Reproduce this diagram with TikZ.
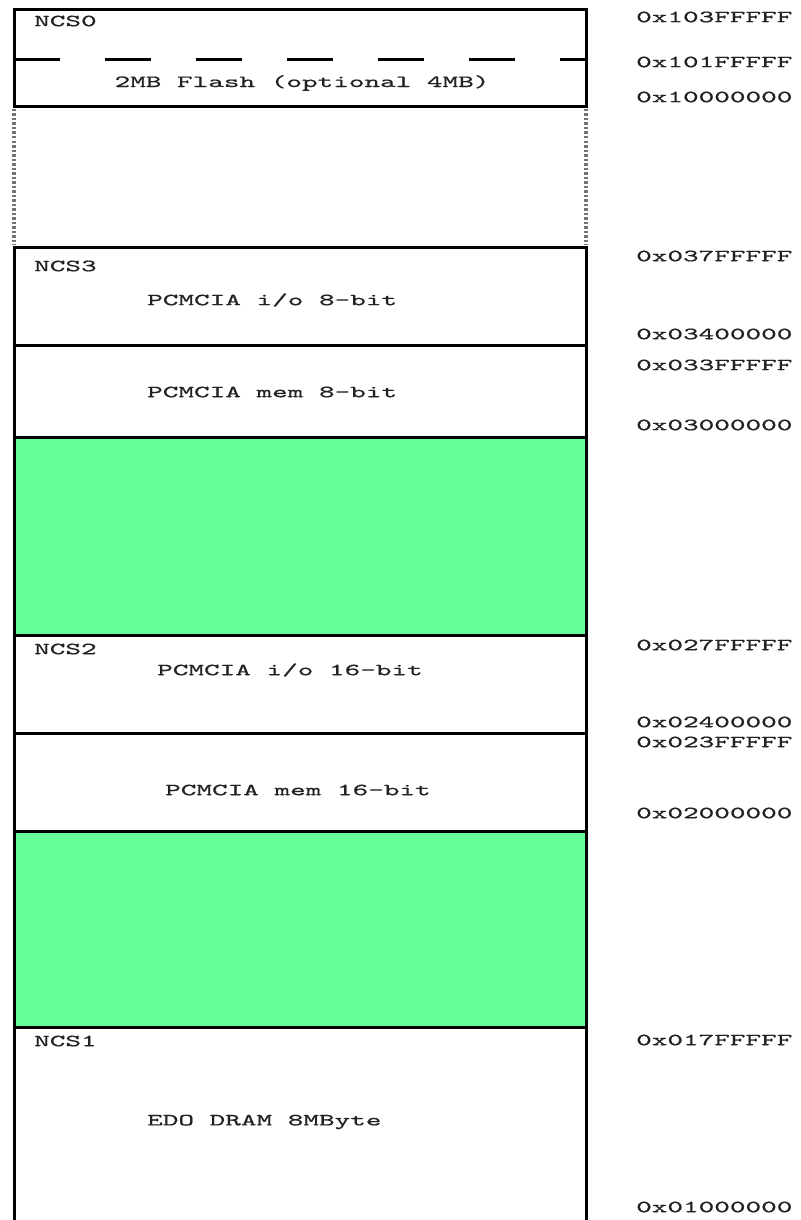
\documentclass[tikz,border=0pt]{standalone}
\usepackage{fontspec}
\newfontfamily\cf[Extension=.otf, FakeStretch=1.75, FakeBold=0.6]{lmmono10-regular}
\definecolor{fillgreen}{HTML}{66FF99}
\definecolor{ink}{HTML}{222222}
\begin{document}
\begin{tikzpicture}[x=1pt,y=-1pt,
  wall/.style={line width=3pt, draw=black},
  dotwall/.style={line width=3.5pt, draw=black!55, dash pattern=on 2.5pt off 2pt},
  txt/.style={font=\cf\fontsize{17}{17}\selectfont, inner sep=0pt, text=ink},
  lft/.style={txt, anchor=west},
  addr/.style={txt, anchor=west}]
\useasboundingbox (0,0) rectangle (800,1220);
\fill[white] (0,0) rectangle (800,1220);
% green free regions
\fill[fillgreen] (14,437) rectangle (586,635);
\fill[fillgreen] (14,831) rectangle (586,1027);
% NCS0 flash box
\draw[wall] (14,10) rectangle (586,107);
\draw[wall, dash pattern=on 46pt off 45pt] (14,60) -- (586,60);
% dotted gap
\draw[dotwall] (14,109) -- (14,245);
\draw[dotwall] (586,109) -- (586,245);
% main stack
\draw[wall] (14,1225) -- (14,247) -- (586,247) -- (586,1225);
\foreach \yy in {345,437,635,733,831,1027}
  \draw[wall] (14,\yy) -- (586,\yy);
% region texts
\node[lft] (ncs0) at (34,21) {NCS0};
\node[txt] (flash) at (302,83) {2MB Flash (optional 4MB)};
\node[lft] (ncs3) at (34,266) {NCS3};
\node[lft] (io8) at (147,300) {PCMCIA i/o 8-bit};
\node[lft] (mem8) at (147,392) {PCMCIA mem 8-bit};
\node[lft] (ncs2) at (34,649) {NCS2};
\node[lft] (io16) at (157,670) {PCMCIA i/o 16-bit};
\node[lft] (mem16) at (165,790) {PCMCIA mem 16-bit};
\node[lft] (ncs1) at (34,1041) {NCS1};
\node[lft] (edo) at (147,1122) {EDO DRAM 8MByte};
% addresses
\node[addr] (a1) at (636,17) {0x103FFFFF};
\node[addr] (a2) at (636,62) {0x101FFFFF};
\node[addr] (a3) at (636,97) {0x10000000};
\node[addr] (a4) at (636,256) {0x037FFFFF};
\node[addr] (a5) at (636,334) {0x03400000};
\node[addr] (a6) at (636,365) {0x033FFFFF};
\node[addr] (a7) at (636,425) {0x03000000};
\node[addr] (a8) at (636,645) {0x027FFFFF};
\node[addr] (a9) at (636,722) {0x02400000};
\node[addr] (a10) at (636,742) {0x023FFFFF};
\node[addr] (a11) at (636,813) {0x02000000};
\node[addr] (a12) at (636,1040) {0x017FFFFF};
\node[addr] (a13) at (636,1207) {0x01000000};
\end{tikzpicture}
\end{document}
